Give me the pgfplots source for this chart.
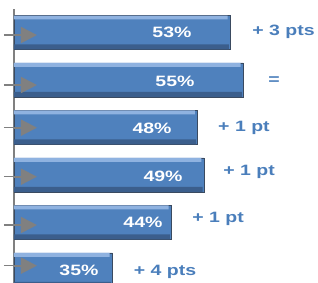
\documentclass[border=0pt]{standalone}
\usepackage{pgfplots}
\pgfplotsset{compat=1.18}
\usepackage{fontspec}
\setmainfont{Liberation Sans}
\usetikzlibrary{arrows.meta}
\definecolor{bmain}{HTML}{4F81BD}
\definecolor{blight}{HTML}{8FB2E0}
\definecolor{bdark}{HTML}{3B5E8C}
\definecolor{bedge}{HTML}{3A4A60}
\definecolor{lblue}{HTML}{4A7EBB}
\definecolor{axgray}{HTML}{808080}
\newcommand{\pl}[1]{\scalebox{1.3}[1]{\bfseries\fontsize{15}{15}\selectfont #1}}
\pgfplotstableread{
v k
53 5
55 4
48 3
49 2
44 1
35 0
}\bars
\pgfplotstableread{
v k
52.6 5.316
54.6 4.316
47.6 3.316
48.6 2.316
43.6 1.316
34.6 0.316
}\tops
\pgfplotstableread{
v k
52.8 4.695
54.8 3.695
47.8 2.695
48.8 1.695
43.8 0.695
34.8 -0.305
}\bots
\begin{document}
\begin{tikzpicture}[x=1pt,y=1pt]
\path[use as bounding box] (0,0) rectangle (318,283);
\begin{axis}[at={(14pt,0pt)}, anchor=south west, scale only axis,
  width=304pt, height=274pt,
  xmin=20, xmax=66.41, ymin=-0.274, ymax=5.495,
  axis x line=none, axis y line*=left,
  y axis line style={axgray, line width=2pt, -},
  xtick=\empty,
  ytick={4.947,3.895,2.996,1.964,0.947,0.091}, yticklabels={},
  tick style={axgray, line width=1.5pt},
  major tick length=10pt, tick align=outside,
  clip mode=individual]
\addplot[xbar, bar width=0.716, bar shift=0pt, fill=bmain,
  draw=bedge, line width=0.8pt] table[x=v, y=k] {\bars};
\addplot[xbar, bar width=0.084, bar shift=0pt, fill=blight, draw=none]
  table[x=v, y=k] {\tops};
\addplot[xbar, bar width=0.105, bar shift=0pt, fill=bdark, draw=none]
  table[x=v, y=k] {\bots};
\addplot[axgray, line width=2pt, -{Triangle[length=16pt,width=16pt]},
  quiver={u=\thisrow{u}, v=\thisrow{v}}] table {
x y u v
20 4.947 3.5 0
20 3.895 3.5 0
20 2.996 3.5 0
20 1.964 3.5 0
20 0.947 3.5 0
20 0.091 3.5 0
};
\node[white] at (axis cs:44.12,5.0) {\pl{53\%}};
\node[white] at (axis cs:44.58,3.964) {\pl{55\%}};
\node[white] at (axis cs:41.07,2.975) {\pl{48\%}};
\node[white] at (axis cs:42.75,1.964) {\pl{49\%}};
\node[white] at (axis cs:39.69,1.01) {\pl{44\%}};
\node[white] at (axis cs:29.92,0) {\pl{35\%}};
\node[lblue] at (axis cs:61.15,5.01) {\pl{+ 3 pts}};
\node[lblue] at (axis cs:59.69,3.98) {\pl{=}};
\node[lblue] at (axis cs:55.11,2.99) {\pl{+ 1 pt}};
\node[lblue] at (axis cs:55.88,2.06) {\pl{+ 1 pt}};
\node[lblue] at (axis cs:51.15,1.07) {\pl{+ 1 pt}};
\node[lblue] at (axis cs:43.05,-0.04) {\pl{+ 4 pts}};
\end{axis}
\end{tikzpicture}
\end{document}
